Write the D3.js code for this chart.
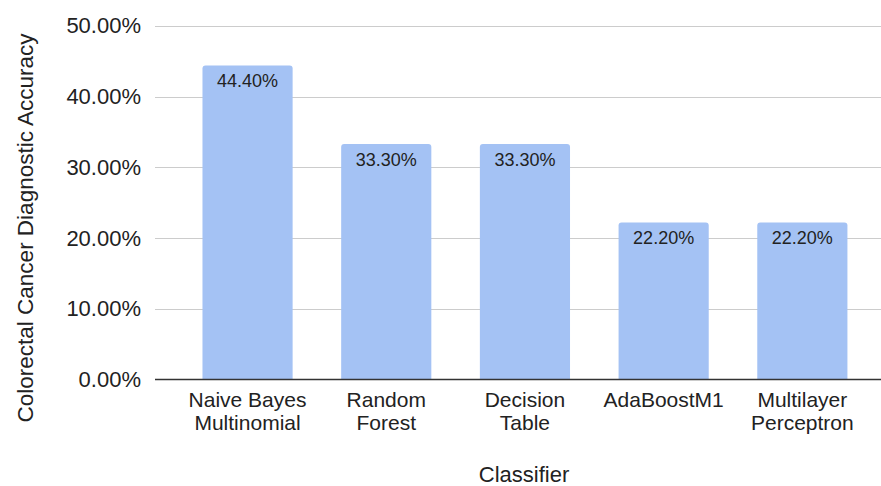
<!DOCTYPE html>
<html>
<head>
<meta charset="utf-8">
<script src="https://cdn.jsdelivr.net/npm/d3@7"></script>
<style>
  html, body { margin: 0; padding: 0; background: #fff; }
  svg { display: block; font-family: "Liberation Sans", Arial, Helvetica, sans-serif; }
</style>
</head>
<body>
<svg id="chart"></svg>
<script>
const classifiers = [
  ['Naive Bayes', 'Multinomial'],
  ['Random', 'Forest'],
  ['Decision', 'Table'],
  ['AdaBoostM1'],
  ['Multilayer', 'Perceptron']
];
const accuracy = [44.4, 33.3, 33.3, 22.2, 22.2];
const yTicks = [0, 10, 20, 30, 40, 50];

const width = 881;
const height = 486;

const gridLeft = 155;
const gridRight = 881;

const names = classifiers.map(c => c.join(' '));

const xScale = d3.scaleBand()
  .domain(names)
  .range([178.2, 871.7])
  .paddingInner(0.35)
  .paddingOuter(0.175);

const yScale = d3.scaleLinear()
  .domain([0, 50])
  .range([379.5, 25.8]);

const chart = d3.select('#chart')
  .attr('width', width)
  .attr('height', height);

// gridlines
chart.append('g')
  .selectAll('line')
  .data(yTicks.filter(t => t > 0))
  .enter()
  .append('line')
  .attr('x1', gridLeft)
  .attr('x2', gridRight)
  .attr('y1', d => Math.round(yScale(d)) + 0.5)
  .attr('y2', d => Math.round(yScale(d)) + 0.5)
  .attr('stroke', '#cccccc')
  .attr('stroke-width', 1);

// y tick labels
chart.append('g')
  .selectAll('text')
  .data(yTicks)
  .enter()
  .append('text')
  .attr('x', 141)
  .attr('y', d => yScale(d))
  .attr('dy', '0.34em')
  .attr('text-anchor', 'end')
  .attr('font-size', 22)
  .attr('fill', '#222')
  .text(d => d3.format('.2f')(d) + '%');

// bars with rounded top corners
const r = 3;
const data = names.map((n, i) => ({name: n, value: accuracy[i], lines: classifiers[i]}));

chart.append('g')
  .selectAll('path')
  .data(data)
  .enter()
  .append('path')
  .attr('fill', '#a4c2f4')
  .attr('d', d => {
    const x0 = xScale(d.name);
    const x1 = x0 + xScale.bandwidth();
    const y0 = yScale(0);
    const y1 = yScale(d.value);
    return `M${x0},${y0}V${y1 + r}Q${x0},${y1} ${x0 + r},${y1}` +
      `H${x1 - r}Q${x1},${y1} ${x1},${y1 + r}V${y0}Z`;
  });

// value labels
chart.append('g')
  .selectAll('text')
  .data(data)
  .enter()
  .append('text')
  .attr('x', d => xScale(d.name) + xScale.bandwidth() / 2)
  .attr('y', d => yScale(d.value) + 22)
  .attr('text-anchor', 'middle')
  .attr('font-size', 18)
  .attr('fill', '#222')
  .text(d => d3.format('.2f')(d.value) + '%');

// baseline
chart.append('line')
  .attr('x1', gridLeft)
  .attr('x2', gridRight)
  .attr('y1', yScale(0))
  .attr('y2', yScale(0))
  .attr('stroke', '#333')
  .attr('stroke-width', 1.5);

// category labels
const cat = chart.append('g')
  .selectAll('text')
  .data(data)
  .enter()
  .append('text')
  .attr('text-anchor', 'middle')
  .attr('font-size', 21)
  .attr('fill', '#222');

cat.selectAll('tspan')
  .data(d => d.lines.map(l => ({l, x: xScale(d.name) + xScale.bandwidth() / 2})))
  .enter()
  .append('tspan')
  .attr('x', d => d.x)
  .attr('y', (d, i) => 407 + i * 22.5)
  .text(d => d.l);

// axis titles
chart.append('text')
  .attr('x', 524)
  .attr('y', 482)
  .attr('text-anchor', 'middle')
  .attr('font-size', 22)
  .attr('fill', '#222')
  .text('Classifier');

chart.append('text')
  .attr('transform', 'translate(33, 228) rotate(-90)')
  .attr('text-anchor', 'middle')
  .attr('font-size', 22.5)
  .attr('fill', '#222')
  .text('Colorectal Cancer Diagnostic Accuracy');
</script>
</body>
</html>
